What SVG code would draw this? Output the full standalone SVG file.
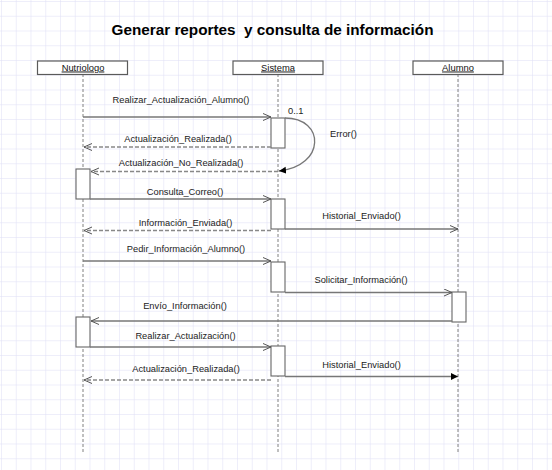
<svg xmlns="http://www.w3.org/2000/svg" width="552" height="470" viewBox="0 0 552 470">
<defs>
<pattern id="grid" x="1" y="1" width="14.75" height="14.75" patternUnits="userSpaceOnUse">
<path d="M0,0 H14.75 M0,0 V14.75" fill="none" stroke="#dedef5" stroke-width="1"/>
</pattern>
<marker id="open" markerWidth="10" markerHeight="9" refX="8" refY="4" orient="auto" markerUnits="userSpaceOnUse">
<path d="M0,0.5 L8,4 L0,7.5" fill="none" stroke="#555" stroke-width="1"/>
</marker>
<marker id="filled" markerWidth="9" markerHeight="8" refX="7" refY="3.5" orient="auto" markerUnits="userSpaceOnUse">
<path d="M0,0 L7,3.5 L0,7 z" fill="#000"/>
</marker>
<style>
.head{fill:#fff;stroke:#5a5a5a;stroke-width:1.2}
.hname{font-family:"Liberation Sans",Arial,sans-serif;font-size:9.4px;fill:#111;text-anchor:middle;text-decoration:underline}
.life{stroke:#808080;stroke-width:1;stroke-dasharray:3,2;fill:none}
.act{fill:#fff;stroke:#666;stroke-width:1.1}
.msg{stroke:#777;stroke-width:1.3;fill:none}
.ret{stroke:#888;stroke-width:1.3;stroke-dasharray:4,2;fill:none}
.lbl{font-family:"Liberation Sans",Arial,sans-serif;font-size:9.3px;fill:#222;text-anchor:middle}
.lbls{font-family:"Liberation Sans",Arial,sans-serif;font-size:9.3px;fill:#222}
.title{font-family:"Liberation Sans",Arial,sans-serif;font-size:15px;font-weight:bold;fill:#000;white-space:pre}
</style>
</defs>
<rect x="0" y="0" width="552" height="470" fill="#fff"/>
<rect x="0" y="0" width="552" height="470" fill="url(#grid)"/>
<text class="title" x="111.5" y="34.5" textLength="322" lengthAdjust="spacingAndGlyphs" xml:space="preserve">Generar reportes  y consulta de información</text>

<g id="nutriologo">
<line class="life" x1="83" y1="74" x2="83" y2="453"/>
<rect class="head" x="37.5" y="61" width="90" height="13.5"/>
<text class="hname" x="83" y="70.5">Nutriologo</text>
<rect class="act" x="76" y="169" width="14" height="30"/>
<rect class="act" x="76" y="317" width="14" height="30"/>
</g>
<g id="sistema">
<line class="life" x1="278" y1="74" x2="278" y2="453"/>
<rect class="head" x="233" y="61" width="90" height="13.5"/>
<text class="hname" x="278" y="70.5">Sistema</text>
<rect class="act" x="271" y="118" width="14" height="30"/>
<rect class="act" x="271" y="199" width="14" height="30"/>
<rect class="act" x="271" y="262" width="14" height="30"/>
<rect class="act" x="271" y="346" width="14" height="30"/>
</g>
<g id="alumno">
<line class="life" x1="458" y1="74" x2="458" y2="453"/>
<rect class="head" x="413" y="61" width="90" height="13.5"/>
<text class="hname" x="458" y="70.5">Alumno</text>
<rect class="act" x="452" y="292" width="14" height="30"/>
</g>

<g id="connectors">
<line class="msg" x1="83" y1="117" x2="271" y2="117" marker-end="url(#open)"/>
<text class="lbl" x="181" y="103">Realizar_Actualización_Alumno()</text>

<line class="ret" x1="271" y1="147" x2="84" y2="147" marker-end="url(#open)"/>
<text class="lbl" x="178" y="142">Actualización_Realizada()</text>

<path class="msg" d="M285,118 C325,118 326,166 279,171" stroke-width="1.1" marker-end="url(#filled)"/>
<text class="lbls" x="288" y="114">0..1</text>
<text class="lbls" x="330" y="137">Error()</text>

<line class="ret" x1="278" y1="171.5" x2="91" y2="171.5" marker-end="url(#open)"/>
<text class="lbl" x="181" y="165.5">Actualización_No_Realizada()</text>

<line class="msg" x1="90" y1="199" x2="271" y2="199" marker-end="url(#open)"/>
<text class="lbl" x="185" y="195">Consulta_Correo()</text>

<line class="ret" x1="271" y1="230.5" x2="84" y2="230.5" marker-end="url(#open)"/>
<text class="lbl" x="185.5" y="225.5">Información_Enviada()</text>

<line class="msg" x1="285" y1="229" x2="458" y2="229" marker-end="url(#open)"/>
<text class="lbl" x="361.5" y="219">Historial_Enviado()</text>

<line class="msg" x1="83" y1="261" x2="271" y2="261" marker-end="url(#open)"/>
<text class="lbl" x="186" y="252">Pedir_Información_Alumno()</text>

<line class="msg" x1="285" y1="292.5" x2="452" y2="292.5" marker-end="url(#open)"/>
<text class="lbl" x="361" y="283">Solicitar_Información()</text>

<line class="msg" x1="452" y1="321" x2="91" y2="321" marker-end="url(#open)"/>
<text class="lbl" x="185" y="308.5">Envío_Información()</text>

<line class="msg" x1="90" y1="347" x2="271" y2="347" marker-end="url(#open)"/>
<text class="lbl" x="185.5" y="339">Realizar_Actualización()</text>

<line class="ret" x1="271" y1="380" x2="84" y2="380" marker-end="url(#open)"/>
<text class="lbl" x="186" y="372">Actualización_Realizada()</text>

<line class="msg" x1="285" y1="376.5" x2="458" y2="376.5" marker-end="url(#filled)"/>
<text class="lbl" x="361.5" y="368">Historial_Enviado()</text>
</g>
</svg>
